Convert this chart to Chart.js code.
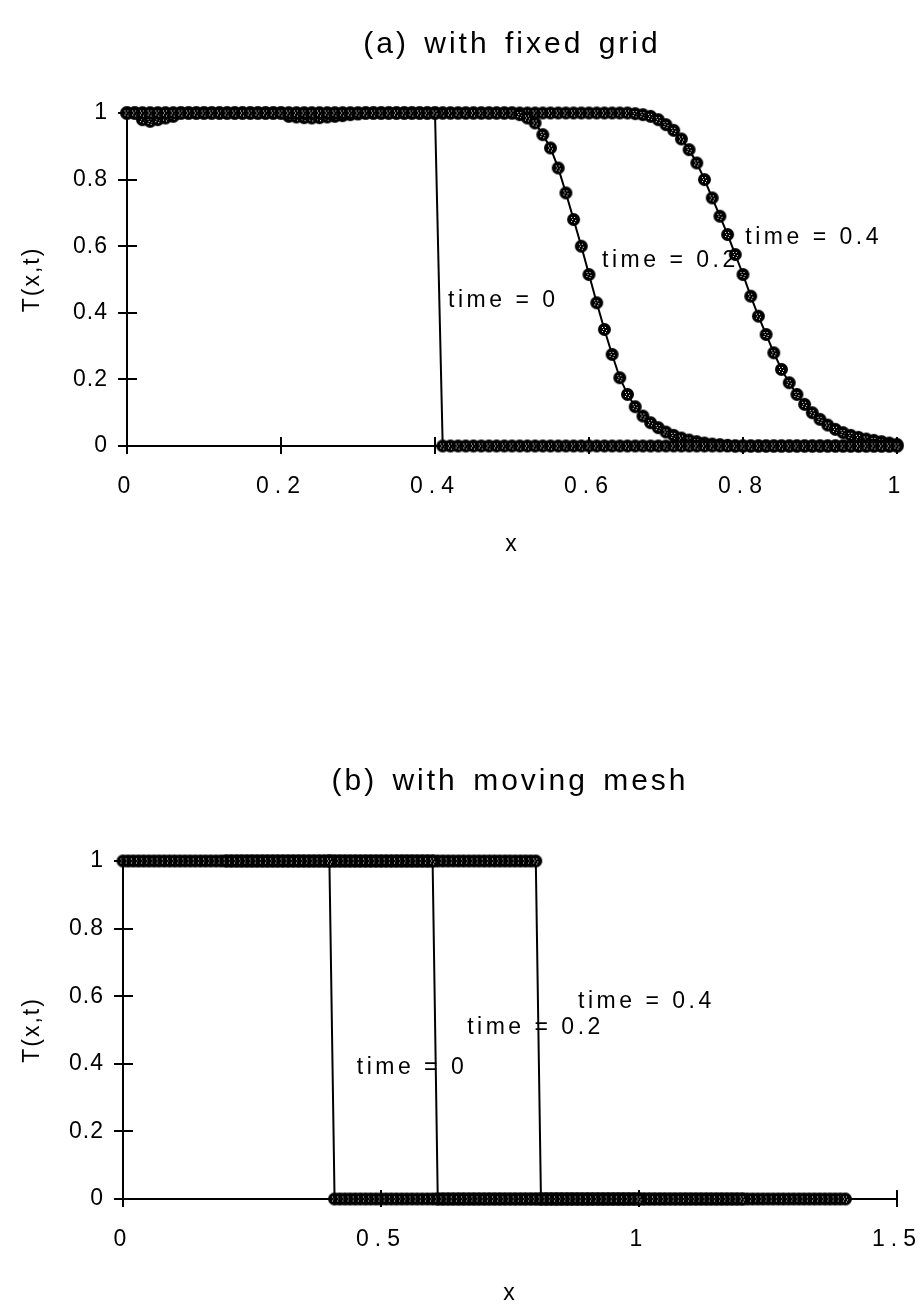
<!DOCTYPE html>
<html>
<head>
<meta charset="utf-8">
<script src="https://cdn.jsdelivr.net/npm/chart.js@4.4.1/dist/chart.umd.min.js"></script>
<style>
body { margin: 0; background: #fff; width: 920px; height: 1312px; overflow: hidden; position: relative; }
canvas { position: absolute; left: 0; }
#chartA { top: 0; }
#chartB { top: 700px; }
</style>
</head>
<body>
<canvas id="chartA" width="920" height="600"></canvas>
<canvas id="chartB" width="920" height="612"></canvas>
<script>
/***  Datos  ***/
// malla fija: x de 0 a 1
var xFixed = [
    0, 0.01, 0.02, 0.03, 0.04, 0.05, 0.06, 0.07, 0.08, 0.09,
    0.1, 0.11, 0.12, 0.13, 0.14, 0.15, 0.16, 0.17, 0.18, 0.19,
    0.2, 0.21, 0.22, 0.23, 0.24, 0.25, 0.26, 0.27, 0.28, 0.29,
    0.3, 0.31, 0.32, 0.33, 0.34, 0.35, 0.36, 0.37, 0.38, 0.39,
    0.4, 0.41, 0.42, 0.43, 0.44, 0.45, 0.46, 0.47, 0.48, 0.49,
    0.5, 0.51, 0.52, 0.53, 0.54, 0.55, 0.56, 0.57, 0.58, 0.59,
    0.6, 0.61, 0.62, 0.63, 0.64, 0.65, 0.66, 0.67, 0.68, 0.69,
    0.7, 0.71, 0.72, 0.73, 0.74, 0.75, 0.76, 0.77, 0.78, 0.79,
    0.8, 0.81, 0.82, 0.83, 0.84, 0.85, 0.86, 0.87, 0.88, 0.89,
    0.9, 0.91, 0.92, 0.93, 0.94, 0.95, 0.96, 0.97, 0.98, 0.99,
    1
];
// malla movil en time = 0.2 y time = 0.4
var xMove02 = [
    0.2, 0.21, 0.22, 0.23, 0.24, 0.25, 0.26, 0.27, 0.28, 0.29,
    0.3, 0.31, 0.32, 0.33, 0.34, 0.35, 0.36, 0.37, 0.38, 0.39,
    0.4, 0.41, 0.42, 0.43, 0.44, 0.45, 0.46, 0.47, 0.48, 0.49,
    0.5, 0.51, 0.52, 0.53, 0.54, 0.55, 0.56, 0.57, 0.58, 0.59,
    0.6, 0.61, 0.62, 0.63, 0.64, 0.65, 0.66, 0.67, 0.68, 0.69,
    0.7, 0.71, 0.72, 0.73, 0.74, 0.75, 0.76, 0.77, 0.78, 0.79,
    0.8, 0.81, 0.82, 0.83, 0.84, 0.85, 0.86, 0.87, 0.88, 0.89,
    0.9, 0.91, 0.92, 0.93, 0.94, 0.95, 0.96, 0.97, 0.98, 0.99,
    1, 1.01, 1.02, 1.03, 1.04, 1.05, 1.06, 1.07, 1.08, 1.09,
    1.1, 1.11, 1.12, 1.13, 1.14, 1.15, 1.16, 1.17, 1.18, 1.19,
    1.2
];
var xMove04 = [
    0.4, 0.41, 0.42, 0.43, 0.44, 0.45, 0.46, 0.47, 0.48, 0.49,
    0.5, 0.51, 0.52, 0.53, 0.54, 0.55, 0.56, 0.57, 0.58, 0.59,
    0.6, 0.61, 0.62, 0.63, 0.64, 0.65, 0.66, 0.67, 0.68, 0.69,
    0.7, 0.71, 0.72, 0.73, 0.74, 0.75, 0.76, 0.77, 0.78, 0.79,
    0.8, 0.81, 0.82, 0.83, 0.84, 0.85, 0.86, 0.87, 0.88, 0.89,
    0.9, 0.91, 0.92, 0.93, 0.94, 0.95, 0.96, 0.97, 0.98, 0.99,
    1, 1.01, 1.02, 1.03, 1.04, 1.05, 1.06, 1.07, 1.08, 1.09,
    1.1, 1.11, 1.12, 1.13, 1.14, 1.15, 1.16, 1.17, 1.18, 1.19,
    1.2, 1.21, 1.22, 1.23, 1.24, 1.25, 1.26, 1.27, 1.28, 1.29,
    1.3, 1.31, 1.32, 1.33, 1.34, 1.35, 1.36, 1.37, 1.38, 1.39,
    1.4
];
// perfil escalon (time = 0, y todas las curvas con malla movil)
var tStep = [
    1, 1, 1, 1, 1, 1, 1, 1, 1, 1,
    1, 1, 1, 1, 1, 1, 1, 1, 1, 1,
    1, 1, 1, 1, 1, 1, 1, 1, 1, 1,
    1, 1, 1, 1, 1, 1, 1, 1, 1, 1,
    1, 0, 0, 0, 0, 0, 0, 0, 0, 0,
    0, 0, 0, 0, 0, 0, 0, 0, 0, 0,
    0, 0, 0, 0, 0, 0, 0, 0, 0, 0,
    0, 0, 0, 0, 0, 0, 0, 0, 0, 0,
    0, 0, 0, 0, 0, 0, 0, 0, 0, 0,
    0, 0, 0, 0, 0, 0, 0, 0, 0, 0,
    0
];
// malla fija, time = 0.2
var tFixed02 = [
    1, 1, 0.98, 0.975, 0.98, 0.985, 0.99, 1, 1, 1,
    1, 1, 1, 1, 1, 1, 1, 1, 1, 1,
    1, 1, 1, 1, 1, 1, 1, 1, 1, 1,
    1, 1, 1, 1, 1, 1, 1, 1, 1, 1,
    1, 1, 1, 1, 1, 1, 1, 1, 1, 1,
    1, 0.995, 0.985, 0.97, 0.935, 0.895, 0.835, 0.76, 0.68, 0.6,
    0.515, 0.43, 0.35, 0.275, 0.205, 0.155, 0.118, 0.09, 0.07, 0.055,
    0.042, 0.032, 0.024, 0.018, 0.013, 0.009, 0.006, 0.004, 0.002, 0,
    0, 0, 0, 0, 0, 0, 0, 0, 0, 0,
    0, 0, 0, 0, 0, 0, 0, 0, 0, 0,
    0
];
// malla fija, time = 0.4
var tFixed04 = [
    1, 1, 1, 1, 1, 1, 1, 1, 1, 1,
    1, 1, 1, 1, 1, 1, 1, 1, 1, 1,
    1, 0.99, 0.988, 0.986, 0.985, 0.986, 0.988, 0.99, 0.992, 0.995,
    0.997, 1, 1, 1, 1, 1, 1, 1, 1, 1,
    1, 1, 1, 1, 1, 1, 1, 1, 1, 1,
    1, 1, 1, 1, 1, 1, 1, 1, 1, 1,
    1, 1, 1, 1, 1, 1, 0.998, 0.995, 0.99, 0.98,
    0.965, 0.948, 0.922, 0.89, 0.85, 0.8, 0.745, 0.69, 0.635, 0.575,
    0.515, 0.45, 0.39, 0.335, 0.28, 0.23, 0.19, 0.155, 0.125, 0.1,
    0.08, 0.063, 0.05, 0.04, 0.032, 0.026, 0.021, 0.017, 0.013, 0.009,
    0.005
];

var xTicksA = [0, 0.2, 0.4, 0.6, 0.8, 1];
var xTicksB = [0, 0.5, 1, 1.5];
var yTicks = [0, 0.2, 0.4, 0.6, 0.8, 1];
var curveLabels = ['time = 0', 'time = 0.2', 'time = 0.4'];

// donde van los textos de cada curva (unidades de datos)
var labelPosA = [[0.417, 0.435], [0.617, 0.556], [0.803, 0.625]];
var labelPosB = [[0.453, 0.39], [0.667, 0.506], [0.882, 0.583]];

var FONT = "'Liberation Sans', Arial, Helvetica, sans-serif";
Chart.defaults.font.family = FONT;
Chart.defaults.color = '#000';

/* marcador: circulo negro con puntitos blancos */
function makeDot(r) {
    var s = Math.ceil(r * 2 + 2);
    var c = document.createElement('canvas');
    c.width = s; c.height = s;
    var g = c.getContext('2d');
    g.fillStyle = '#000';
    g.beginPath();
    g.arc(s / 2, s / 2, r, 0, Math.PI * 2);
    g.fill();
    g.fillStyle = '#fff';
    var m = Math.floor(s / 2);
    [[-2, -2], [1, -2], [-1, 0], [2, 1], [-2, 2], [1, 3]].forEach(function (p) {
        g.fillRect(m + p[0], m + p[1], 1, 1);
    });
    return c;
}
var dot = makeDot(6.5);

function pairs(xs, ys) {
    return xs.map(function (x, i) { return { x: x, y: ys[i] }; });
}

/* ticks que cruzan el eje */
var crossTicks = {
    id: 'crossTicks',
    beforeDatasetsDraw: function (chart) {
        var ctx = chart.ctx, a = chart.chartArea;
        var xs = chart.scales.x, ys = chart.scales.y;
        ctx.save();
        ctx.strokeStyle = '#000';
        ctx.lineWidth = 2;
        ctx.beginPath();
        xs.ticks.forEach(function (t) {
            var p = Math.round(xs.getPixelForValue(t.value));
            ctx.moveTo(p, a.bottom - 9);
            ctx.lineTo(p, a.bottom + 8);
        });
        ys.ticks.forEach(function (t) {
            var p = Math.round(ys.getPixelForValue(t.value));
            ctx.moveTo(a.left - 9, p);
            ctx.lineTo(a.left + 10, p);
        });
        ctx.stroke();
        ctx.restore();
    }
};

/* textos "time = ..." */
var curveText = {
    id: 'curveText',
    beforeDatasetsDraw: function (chart, args, opts) {
        var ctx = chart.ctx;
        ctx.save();
        ctx.font = '23px ' + FONT;
        ctx.fillStyle = '#000';
        ctx.textAlign = 'left';
        ctx.textBaseline = 'middle';
        ctx.letterSpacing = '3.5px';
        opts.pos.forEach(function (p, i) {
            ctx.fillText(curveLabels[i], chart.scales.x.getPixelForValue(p[0]), chart.scales.y.getPixelForValue(p[1]));
        });
        ctx.restore();
    }
};

/* titulo centrado sobre el area del grafico */
var panelTitle = {
    id: 'panelTitle',
    afterDraw: function (chart, args, opts) {
        var ctx = chart.ctx, a = chart.chartArea;
        ctx.save();
        ctx.font = opts.size + 'px ' + FONT;
        ctx.fillStyle = '#000';
        ctx.textAlign = 'center';
        ctx.textBaseline = 'middle';
        ctx.letterSpacing = '3px';
        ctx.wordSpacing = '4px';
        ctx.fillText(opts.text, (a.left + a.right) / 2, opts.y);
        ctx.restore();
    }
};

/* espaciado de letras como en el original */
var spacing = {
    id: 'spacing',
    afterLayout: function (chart, args, opts) {
        ['x', 'y'].forEach(function (id) {
            var s = chart.scales[id];
            if (s._spaced) return;
            var orig = s.drawLabels;
            s.drawLabels = function (area) {
                var c = this.ctx, old = c.letterSpacing;
                c.letterSpacing = opts[id];
                orig.call(this, area);
                c.letterSpacing = old;
            };
            s._spaced = true;
        });
    },
    beforeDraw: function (chart, args, opts) {
        chart.ctx.letterSpacing = opts.base;
    }
};

function makeChart(id, title, sets, xMax, xTicks, labelPos, g) {
    var ctx = document.getElementById(id).getContext('2d');
    var datasets = sets.map(function (d) {
        return {
            data: d,
            showLine: true,
            borderColor: '#000',
            borderWidth: 2,
            pointStyle: dot,
            pointRadius: 6.5,
            clip: false
        };
    });
    return new Chart(ctx, {
        type: 'scatter',
        data: { datasets: datasets },
        options: {
            responsive: false,
            animation: false,
            events: [],
            layout: { padding: { left: 0, right: 23, top: g.top, bottom: 0 } },
            scales: {
                x: {
                    type: 'linear', min: 0, max: xMax,
                    afterBuildTicks: function (s) { s.ticks = xTicks.map(function (v) { return { value: v }; }); },
                    afterFit: function (s) { s.height = g.xHeight; s.paddingLeft = 0; s.paddingRight = 0; },
                    grid: { drawOnChartArea: false, drawTicks: false },
                    border: { color: '#000', width: 2 },
                    ticks: { font: { size: 23 }, color: '#000', padding: 27, maxRotation: 0, autoSkip: false,
                        callback: function (v) { return String(v); } },
                    title: { display: true, text: 'x', font: { size: 23 }, color: '#000', padding: { top: 0, bottom: g.xTitlePad } }
                },
                y: {
                    type: 'linear', min: 0, max: 1,
                    afterBuildTicks: function (s) { s.ticks = yTicks.map(function (v) { return { value: v }; }); },
                    afterFit: function (s) { s.width = g.yWidth; },
                    grid: { drawOnChartArea: false, drawTicks: false },
                    border: { color: '#000', width: 2 },
                    ticks: { font: { size: 23 }, color: '#000', padding: 19, autoSkip: false,
                        callback: function (v) { return String(v); } },
                    title: { display: true, text: 'T(x,t)', font: { size: 23 }, color: '#000', padding: { top: 19, bottom: 0 } }
                }
            },
            plugins: {
                legend: { display: false },
                tooltip: { enabled: false },
                title: { display: false },
                panelTitle: { text: title, size: 30, y: g.titleY },
                curveText: { pos: labelPos },
                spacing: { base: '2px', x: '6px', y: '1px' }
            }
        },
        plugins: [crossTicks, curveText, panelTitle, spacing]
    });
}

makeChart('chartA', '(a) with fixed grid',
    [pairs(xFixed, tStep), pairs(xFixed, tFixed02), pairs(xFixed, tFixed04)],
    1, xTicksA, labelPosA,
    { top: 113, titleY: 45, xHeight: 154, xTitlePad: 42, yWidth: 127 });

makeChart('chartB', '(b) with moving mesh',
    [pairs(xFixed, tStep), pairs(xMove02, tStep), pairs(xMove04, tStep)],
    1.5, xTicksB, labelPosB,
    { top: 161, titleY: 82, xHeight: 113, xTitlePad: 5, yWidth: 123 });
</script>
</body>
</html>
